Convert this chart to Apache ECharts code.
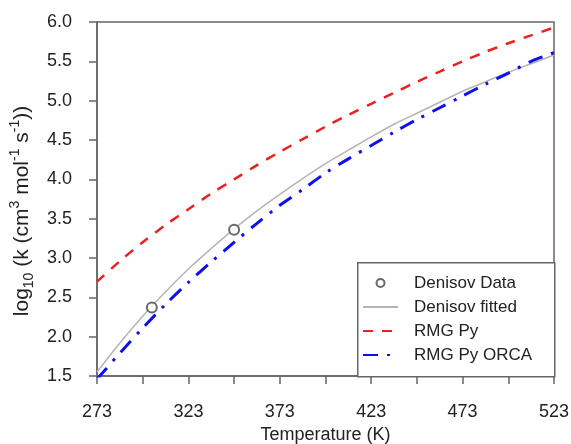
<!DOCTYPE html>
<html>
<head>
<meta charset="utf-8">
<script src="https://cdn.jsdelivr.net/npm/echarts@6/dist/echarts.min.js"></script>
<style>
  html, body { margin: 0; padding: 0; background: #fff; }
  #main { width: 571px; height: 444px; }
</style>
</head>
<body>
<div id="main"></div>
<script>
var temps = [273, 285.5, 298, 310.5, 323, 335.5, 348, 360.5, 373, 385.5, 398,
             410.5, 423, 435.5, 448, 460.5, 473, 485.5, 498, 510.5, 523];
// log10 k values
var fitted = [1.55, 1.92, 2.26, 2.57, 2.86, 3.12, 3.37, 3.60, 3.81, 4.01, 4.20,
              4.37, 4.54, 4.70, 4.84, 4.98, 5.12, 5.24, 5.36, 5.47, 5.58];
var rmgPy = [2.70, 2.96, 3.20, 3.42, 3.62, 3.82, 4.00, 4.18, 4.35, 4.51, 4.67,
             4.82, 4.96, 5.10, 5.24, 5.37, 5.50, 5.62, 5.73, 5.83, 5.93];
var rmgOrca = [1.46, 1.79, 2.11, 2.41, 2.69, 2.95, 3.20, 3.44, 3.67, 3.87, 4.08,
               4.26, 4.43, 4.60, 4.76, 4.91, 5.06, 5.21, 5.35, 5.50, 5.61];
// Denisov data points
var dataT = [303, 348];
var dataK = [2.37, 3.36];

function pairs(xs, ys) {
    return xs.map(function (x, i) { return [x, ys[i]]; });
}

var chart = echarts.init(document.getElementById('main'));
var font = 'Liberation Sans, Arial, sans-serif';
var axisCol = '#666';
var txtCol = '#222';

chart.setOption({
    animation: false,
    grid: {
        left: 97, right: 17, top: 22, bottom: 68,
        outerBoundsMode: 'none',
        containLabel: false,
        show: true, borderColor: axisCol, borderWidth: 1.5
    },
    xAxis: {
        type: 'value',
        min: 273, max: 523, interval: 25,
        name: 'Temperature (K)',
        nameLocation: 'middle',
        nameGap: 49,
        nameTextStyle: { fontFamily: font, fontSize: 18, color: txtCol },
        axisLine: { lineStyle: { color: axisCol, width: 1.5 } },
        axisTick: { length: 8, lineStyle: { color: axisCol, width: 1.5 } },
        axisLabel: {
            margin: 27, fontFamily: font, fontSize: 18, color: txtCol,
            formatter: function (v) { return (v - 273) % 50 === 0 ? v : ''; }
        },
        splitLine: { show: false }
    },
    yAxis: {
        type: 'value',
        min: 1.5, max: 6.0, interval: 0.5,
        name: '{n|log}{b|10}{n| (k (cm}{t|3}{n| mol}{t|-1}{n| s}{t|-1}{n|))}',
        nameLocation: 'middle',
        nameGap: 50,
        nameTextStyle: {
            fontFamily: font, fontSize: 21, color: txtCol,
            padding: [0, 24, 0, 0],
            rich: {
                n: { fontFamily: font, fontSize: 21, color: txtCol, lineHeight: 28, verticalAlign: 'middle' },
                t: { fontFamily: font, fontSize: 14, color: txtCol, lineHeight: 28, verticalAlign: 'top' },
                b: { fontFamily: font, fontSize: 14, color: txtCol, lineHeight: 28, verticalAlign: 'bottom' }
            }
        },
        axisLine: { lineStyle: { color: axisCol, width: 1.5 } },
        axisTick: { length: 8, lineStyle: { color: axisCol, width: 1.5 } },
        axisLabel: {
            margin: 25, fontFamily: font, fontSize: 18, color: txtCol,
            formatter: function (v) { return v.toFixed(1); }
        },
        splitLine: { show: false }
    },
    graphic: [{
        type: 'rect',
        left: 357, top: 262,
        shape: { width: 197, height: 114 },
        style: { fill: '#fff', stroke: axisCol, lineWidth: 1.5 },
        z: 100
    }],
    legend: {
        orient: 'vertical',
        left: 362, top: 273,
        padding: 0,
        itemWidth: 35, itemHeight: 8, itemGap: 4,
        z: 200,
        textStyle: { fontFamily: font, fontSize: 17, color: txtCol, lineHeight: 20, padding: [0, 0, 0, 11] },
        data: [
            { name: 'Denisov Data', icon: 'emptyCircle' },
            { name: 'Denisov fitted', itemStyle: { opacity: 0 } },
            { name: 'RMG Py', itemStyle: { opacity: 0 } },
            { name: 'RMG Py ORCA', itemStyle: { opacity: 0 } }
        ]
    },
    series: [
        {
            name: 'Denisov fitted',
            type: 'line',
            data: pairs(temps, fitted),
            smooth: 0.3,
            symbol: 'none',
            lineStyle: { color: '#b4b4b4', width: 1.5 },
            itemStyle: { color: '#b4b4b4' },
            z: 2
        },
        {
            name: 'RMG Py',
            type: 'line',
            data: pairs(temps, rmgPy),
            smooth: 0.3,
            symbol: 'none',
            lineStyle: { color: '#e82222', width: 2.5, type: [10, 9] },
            itemStyle: { color: '#e82222' },
            z: 3
        },
        {
            name: 'RMG Py ORCA',
            type: 'line',
            data: pairs(temps, rmgOrca),
            smooth: 0.3,
            symbol: 'none',
            clip: true,
            lineStyle: { color: '#1010ee', width: 3, type: [15, 9, 3, 9] },
            itemStyle: { color: '#1010ee' },
            z: 3
        },
        {
            name: 'Denisov Data',
            type: 'scatter',
            data: pairs(dataT, dataK),
            symbol: 'emptyCircle',
            symbolSize: 10,
            itemStyle: { color: '#444', borderColor: '#444', borderWidth: 1.5 },
            z: 5
        }
    ]
});
</script>
</body>
</html>
